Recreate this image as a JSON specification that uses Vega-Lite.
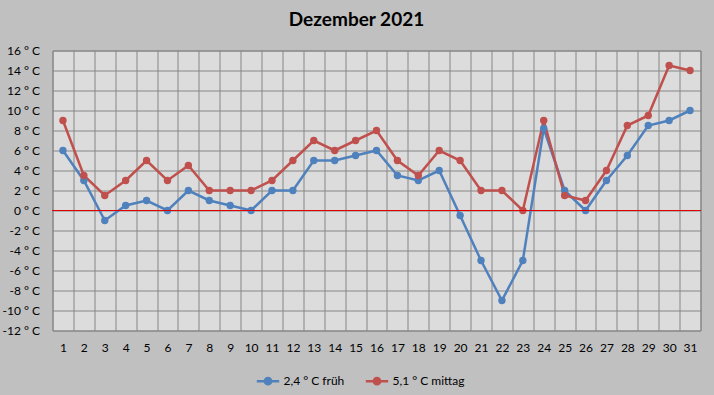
{
  "$schema": "https://vega.github.io/schema/vega-lite/v6.json",
  "width": 648,
  "height": 280,
  "autosize": {"type": "none"},
  "padding": {"left": 52.5, "top": 50.5, "right": 13.5, "bottom": 64.5},
  "background": "#c0c0c0",
  "title": {"text": "Dezember 2021", "anchor": "middle", "dx": -20, "offset": 15, "font": "Lato", "fontSize": 19, "fontWeight": "bold", "color": "#000000"},
  "config": {
    "view": {"fill": "#dcdcdc", "stroke": "#868686", "strokeWidth": 1},
    "font": "Lato",
    "axis": {"labelFont": "Lato", "labelFontSize": 12, "labelColor": "#000000", "gridColor": "#868686", "gridOpacity": 1, "gridWidth": 1, "domain": false, "ticks": false, "title": null, "labelOverlap": false}
  },
  "data": {"values": [
    {"tag": 1, "serie": "2,4 ° C früh", "t": 6}, {"tag": 2, "serie": "2,4 ° C früh", "t": 3}, {"tag": 3, "serie": "2,4 ° C früh", "t": -1}, {"tag": 4, "serie": "2,4 ° C früh", "t": 0.5}, {"tag": 5, "serie": "2,4 ° C früh", "t": 1}, {"tag": 6, "serie": "2,4 ° C früh", "t": 0}, {"tag": 7, "serie": "2,4 ° C früh", "t": 2}, {"tag": 8, "serie": "2,4 ° C früh", "t": 1}, {"tag": 9, "serie": "2,4 ° C früh", "t": 0.5}, {"tag": 10, "serie": "2,4 ° C früh", "t": 0}, {"tag": 11, "serie": "2,4 ° C früh", "t": 2}, {"tag": 12, "serie": "2,4 ° C früh", "t": 2}, {"tag": 13, "serie": "2,4 ° C früh", "t": 5}, {"tag": 14, "serie": "2,4 ° C früh", "t": 5}, {"tag": 15, "serie": "2,4 ° C früh", "t": 5.5}, {"tag": 16, "serie": "2,4 ° C früh", "t": 6}, {"tag": 17, "serie": "2,4 ° C früh", "t": 3.5}, {"tag": 18, "serie": "2,4 ° C früh", "t": 3}, {"tag": 19, "serie": "2,4 ° C früh", "t": 4}, {"tag": 20, "serie": "2,4 ° C früh", "t": -0.5}, {"tag": 21, "serie": "2,4 ° C früh", "t": -5}, {"tag": 22, "serie": "2,4 ° C früh", "t": -9}, {"tag": 23, "serie": "2,4 ° C früh", "t": -5}, {"tag": 24, "serie": "2,4 ° C früh", "t": 8.2}, {"tag": 25, "serie": "2,4 ° C früh", "t": 2}, {"tag": 26, "serie": "2,4 ° C früh", "t": 0}, {"tag": 27, "serie": "2,4 ° C früh", "t": 3}, {"tag": 28, "serie": "2,4 ° C früh", "t": 5.5}, {"tag": 29, "serie": "2,4 ° C früh", "t": 8.5}, {"tag": 30, "serie": "2,4 ° C früh", "t": 9}, {"tag": 31, "serie": "2,4 ° C früh", "t": 10},
    {"tag": 1, "serie": "5,1 ° C mittag", "t": 9}, {"tag": 2, "serie": "5,1 ° C mittag", "t": 3.5}, {"tag": 3, "serie": "5,1 ° C mittag", "t": 1.5}, {"tag": 4, "serie": "5,1 ° C mittag", "t": 3}, {"tag": 5, "serie": "5,1 ° C mittag", "t": 5}, {"tag": 6, "serie": "5,1 ° C mittag", "t": 3}, {"tag": 7, "serie": "5,1 ° C mittag", "t": 4.5}, {"tag": 8, "serie": "5,1 ° C mittag", "t": 2}, {"tag": 9, "serie": "5,1 ° C mittag", "t": 2}, {"tag": 10, "serie": "5,1 ° C mittag", "t": 2}, {"tag": 11, "serie": "5,1 ° C mittag", "t": 3}, {"tag": 12, "serie": "5,1 ° C mittag", "t": 5}, {"tag": 13, "serie": "5,1 ° C mittag", "t": 7}, {"tag": 14, "serie": "5,1 ° C mittag", "t": 6}, {"tag": 15, "serie": "5,1 ° C mittag", "t": 7}, {"tag": 16, "serie": "5,1 ° C mittag", "t": 8}, {"tag": 17, "serie": "5,1 ° C mittag", "t": 5}, {"tag": 18, "serie": "5,1 ° C mittag", "t": 3.5}, {"tag": 19, "serie": "5,1 ° C mittag", "t": 6}, {"tag": 20, "serie": "5,1 ° C mittag", "t": 5}, {"tag": 21, "serie": "5,1 ° C mittag", "t": 2}, {"tag": 22, "serie": "5,1 ° C mittag", "t": 2}, {"tag": 23, "serie": "5,1 ° C mittag", "t": 0}, {"tag": 24, "serie": "5,1 ° C mittag", "t": 9}, {"tag": 25, "serie": "5,1 ° C mittag", "t": 1.5}, {"tag": 26, "serie": "5,1 ° C mittag", "t": 1}, {"tag": 27, "serie": "5,1 ° C mittag", "t": 4}, {"tag": 28, "serie": "5,1 ° C mittag", "t": 8.5}, {"tag": 29, "serie": "5,1 ° C mittag", "t": 9.5}, {"tag": 30, "serie": "5,1 ° C mittag", "t": 14.5}, {"tag": 31, "serie": "5,1 ° C mittag", "t": 14}
  ]},
  "layer": [
    {
      "mark": {"type": "line", "strokeWidth": 2.5, "point": {"filled": true, "size": 55, "opacity": 1}},
      "encoding": {
        "x": {"field": "tag", "type": "ordinal", "scale": {"type": "band", "paddingInner": 0, "paddingOuter": 0}, "axis": {"labelAngle": 0, "tickBand": "extent", "grid": true, "labelPadding": 12}},
        "y": {"field": "t", "type": "quantitative", "scale": {"domain": [-12, 16], "nice": false, "zero": false}, "axis": {"values": [-12, -10, -8, -6, -4, -2, 0, 2, 4, 6, 8, 10, 12, 14, 16], "labelExpr": "datum.value + ' ° C'", "labelPadding": 13, "grid": true}},
        "color": {"field": "serie", "type": "nominal", "scale": {"domain": ["2,4 ° C früh", "5,1 ° C mittag"], "range": ["#4f81bd", "#c0504d"]},
          "legend": {"title": null, "orient": "none", "direction": "horizontal", "legendX": 203, "legendY": 318, "symbolType": "M-1,0L1,0M-0.28,0A0.28,0.28 0 1,1 0.28,0A0.28,0.28 0 1,1 -0.28,0", "symbolSize": 500, "symbolStrokeWidth": 2.5, "labelFontSize": 12, "labelColor": "#000000", "labelOffset": 3, "columnPadding": 16,
            "encode": {"symbols": {"update": {"fill": {"scale": "color", "field": "value"}}}}}}
      }
    },
    {
      "mark": {"type": "rule", "color": "#e00000", "strokeWidth": 1},
      "encoding": {"y": {"datum": 0, "type": "quantitative", "scale": {"domain": [-12, 16], "nice": false, "zero": false}, "axis": {"values": [-12, -10, -8, -6, -4, -2, 0, 2, 4, 6, 8, 10, 12, 14, 16], "labelExpr": "datum.value + ' ° C'", "labelPadding": 13, "grid": true}}}
    }
  ]
}
